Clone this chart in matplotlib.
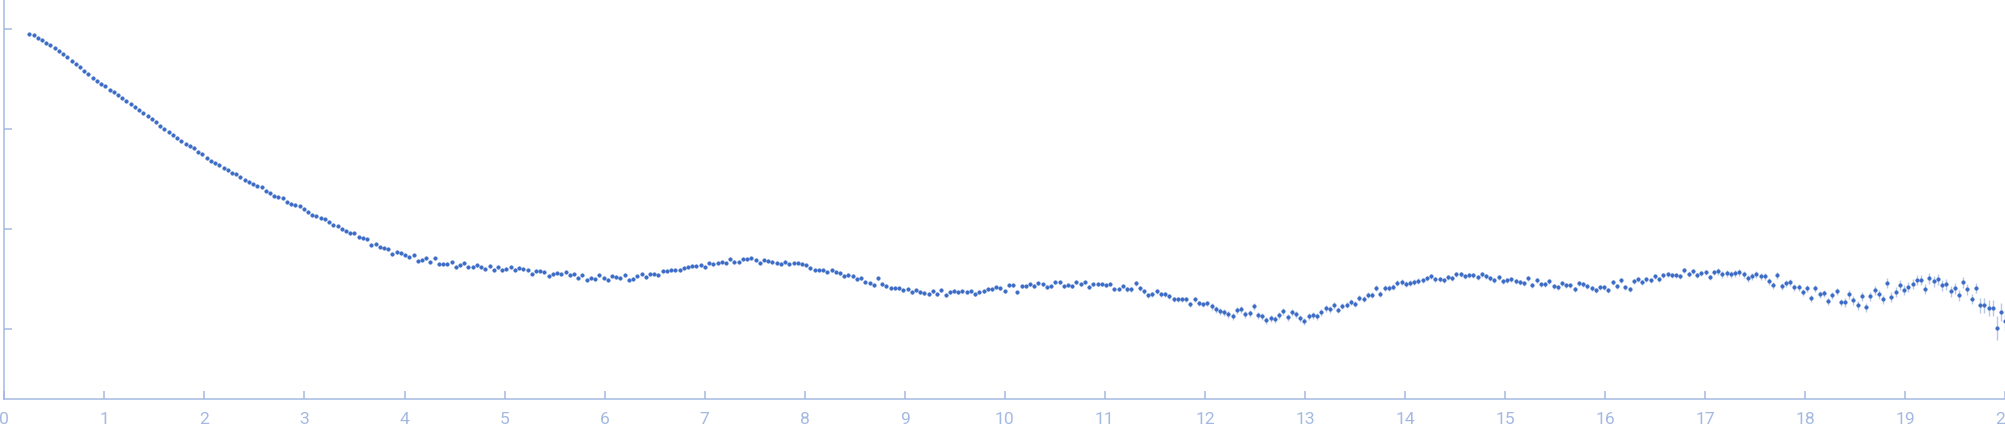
import numpy as np
import matplotlib
matplotlib.use("Agg")
import matplotlib.pyplot as plt

# ---- data ----
q_start = 0.25
q_end = 20.0

seg1 = [3.95,3.94,3.91,3.89,3.86,3.84,3.81,3.78,3.75,3.72,
        3.68,3.65,3.62,3.58,3.55,3.51,3.48,3.45,3.43,3.39,
        3.37,3.34,3.31,3.28,3.25,3.22,3.19,3.16,3.13,3.10,
        3.07,3.03,3.00,2.97,2.94,2.91,2.88,2.85,2.83,2.81,
        2.77,2.75,2.71,2.68,2.66,2.64,2.61,2.59,2.56,2.55,
        2.52,2.49,2.47,2.45,2.43,2.42,2.38,2.36,2.33,2.32,
        2.31,2.27,2.25,2.24,2.23,2.20,2.17,2.14,2.13,2.11,
        2.10,2.07,2.04,2.03,2.00,1.98,1.96,1.96,1.92,1.91,
        1.90,1.84,1.85,1.82,1.81,1.80,1.75,1.77]
seg2 = [1.76,1.74,1.72,1.74,1.68,1.69,1.71,1.67,1.71,1.65,
        1.65,1.65,1.67,1.62,1.64,1.66,1.62,1.62,1.64,1.62,
        1.60,1.63,1.59,1.62,1.59,1.60,1.62,1.59,1.61,1.60,
        1.59,1.55,1.58,1.58,1.57,1.53,1.55,1.56,1.55,1.57,
        1.54,1.55,1.51,1.54,1.49,1.51,1.50,1.54,1.51,1.49]
seg3 = [1.53,1.52,1.51,1.54,1.49,1.50,1.53,1.55,1.52,1.55,
        1.55,1.54,1.58,1.58,1.59,1.59,1.59,1.61,1.62,1.63,
        1.63,1.64,1.62,1.66,1.65,1.66,1.67,1.66,1.70,1.67,
        1.67,1.70,1.70,1.71,1.69,1.66,1.69,1.68,1.67,1.66,
        1.65,1.67,1.65,1.66,1.66,1.65,1.64,1.61,1.59,1.59]
seg4 = [1.59,1.57,1.59,1.57,1.56,1.53,1.54,1.53,1.50,1.51,
        1.47,1.46,1.44,1.51,1.45,1.43,1.41,1.41,1.41,1.39,
        1.40,1.37,1.39,1.37,1.36,1.35,1.38,1.35,1.39,1.34,
        1.37,1.38,1.37,1.38,1.37,1.38,1.35,1.37,1.38,1.40,
        1.40,1.42,1.41,1.38,1.44,1.44,1.37,1.43,1.43]
seg5 = [1.45,1.43,1.46,1.45,1.42,1.43,1.47,1.47,1.43,1.44,
        1.43,1.47,1.45,1.47,1.42,1.45,1.45,1.45,1.44,1.45,
        1.40,1.40,1.43,1.40,1.40,1.46,1.41,1.38,1.34,1.35,
        1.38,1.35,1.35,1.33,1.30,1.30,1.30,1.30,1.25,1.30,
        1.26,1.25,1.26,1.23,1.20,1.18,1.17,1.15,1.13,1.19]
seg6 = [1.20,1.15,1.16,1.23,1.14,1.13,1.09,1.11,1.10,1.14,
        1.18,1.12,1.17,1.15,1.11,1.08,1.13,1.14,1.13,1.17,
        1.21,1.20,1.24,1.19,1.23,1.24,1.27,1.25,1.31,1.30,
        1.34,1.34,1.41,1.35,1.41,1.41,1.42,1.46,1.47,1.45,
        1.46,1.47,1.48,1.49,1.51,1.53,1.50,1.50,1.49,1.52]
seg7 = [1.51,1.55,1.55,1.53,1.54,1.54,1.52,1.55,1.53,1.51,
        1.49,1.52,1.48,1.49,1.50,1.48,1.47,1.46,1.51,1.44,
        1.49,1.45,1.45,1.48,1.43,1.42,1.46,1.44,1.44,1.40,
        1.46,1.45,1.43,1.41,1.39,1.42,1.42,1.39,1.47,1.43,
        1.49,1.42,1.40,1.48,1.50,1.47,1.50,1.49,1.53,1.50,
        1.54,1.55,1.54,1.54,1.53,1.59,1.55,1.58,1.54,1.56,
        1.57,1.52]
seg8 = [1.57,1.58,1.55,1.56,1.55,1.56,1.57,1.55,1.51,1.53,
        1.55,1.53,1.53,1.48,1.44,1.54,1.43,1.46,1.47,1.42,
        1.42,1.37,1.41,1.31,1.41,1.35,1.36,1.28,1.34,1.38,
        1.27,1.27,1.35,1.29,1.24,1.33,1.22,1.33,1.39,1.35,
        1.30,1.46,1.32,1.37,1.44,1.39,1.42,1.45,1.49,1.49,
        1.40,1.51,1.48,1.50,1.44,1.45,1.38,1.41,1.34,1.47,
        1.40,1.30,1.41,1.24,1.24,1.21,1.21,1.01,1.17,1.08]

# uncertainty, read per block of 10 points, plus the last 9 points individually
block_err = [0.004,0.004,0.004,0.004,0.004,0.004,0.004,0.004,0.004,
             0.006,0.006,0.006,0.006,0.006,
             0.008,0.008,0.008,0.008,0.008,
             0.012,0.012,0.012,0.012,0.012,
             0.015,0.015,0.022,0.022,
             0.032,0.032,0.032,0.030,0.030,
             0.025,0.025,0.025,0.025,0.025,0.027,0.027,
             0.035,0.035,0.035,0.045,0.050,0.055]
last_err = [0.05,0.05,0.075,0.075,0.08,0.08,0.12,0.09,0.10]

x_ticks = list(range(0, 21))
y_ticks = [1, 2, 3, 4]

# ---- assemble ----
y = np.array(seg1 + seg2 + seg3 + seg4 + seg5 + seg6 + seg7 + seg8)
q = np.linspace(q_start, q_end, len(y))
err = np.concatenate([np.repeat(block_err, 10), last_err])

axis_col = "#a4b9e2"
pt_col = "#3a6bc6"
bar_col = "#b7c8e8"

fig = plt.figure(figsize=(20.06, 4.37), dpi=100)
ax = fig.add_axes([4.3 / 2006, 38 / 437, (2005.4 - 4.3) / 2006, 399 / 437])

ax.errorbar(q, y, yerr=err, fmt="none", ecolor=bar_col, elinewidth=1.0, capsize=0, zorder=2)
ax.plot(q, y, linestyle="none", marker="o", markersize=2.6, color=pt_col,
        markeredgewidth=0.3, markeredgecolor=pt_col, zorder=3)

ax.set_xlim(0, 20)
ax.set_ylim(0.303, 4.293)
ax.set_xticks(x_ticks)
ax.set_xticklabels([str(t) for t in x_ticks])
ax.set_yticks(y_ticks)
ax.set_yticklabels([])

for s in ["top", "right"]:
    ax.spines[s].set_visible(False)
for s in ["left", "bottom"]:
    ax.spines[s].set_color(axis_col)
    ax.spines[s].set_linewidth(1.1)

ax.tick_params(axis="both", direction="in", color=axis_col, width=1.1, length=5.5)
ax.tick_params(axis="x", labelcolor=axis_col, labelsize=12.6, pad=9.5)
for lab in ax.get_xticklabels():
    lab.set_fontfamily(["Roboto", "DejaVu Sans"])
ax.patch.set_alpha(0)

fig.savefig("out.png", dpi=100)
